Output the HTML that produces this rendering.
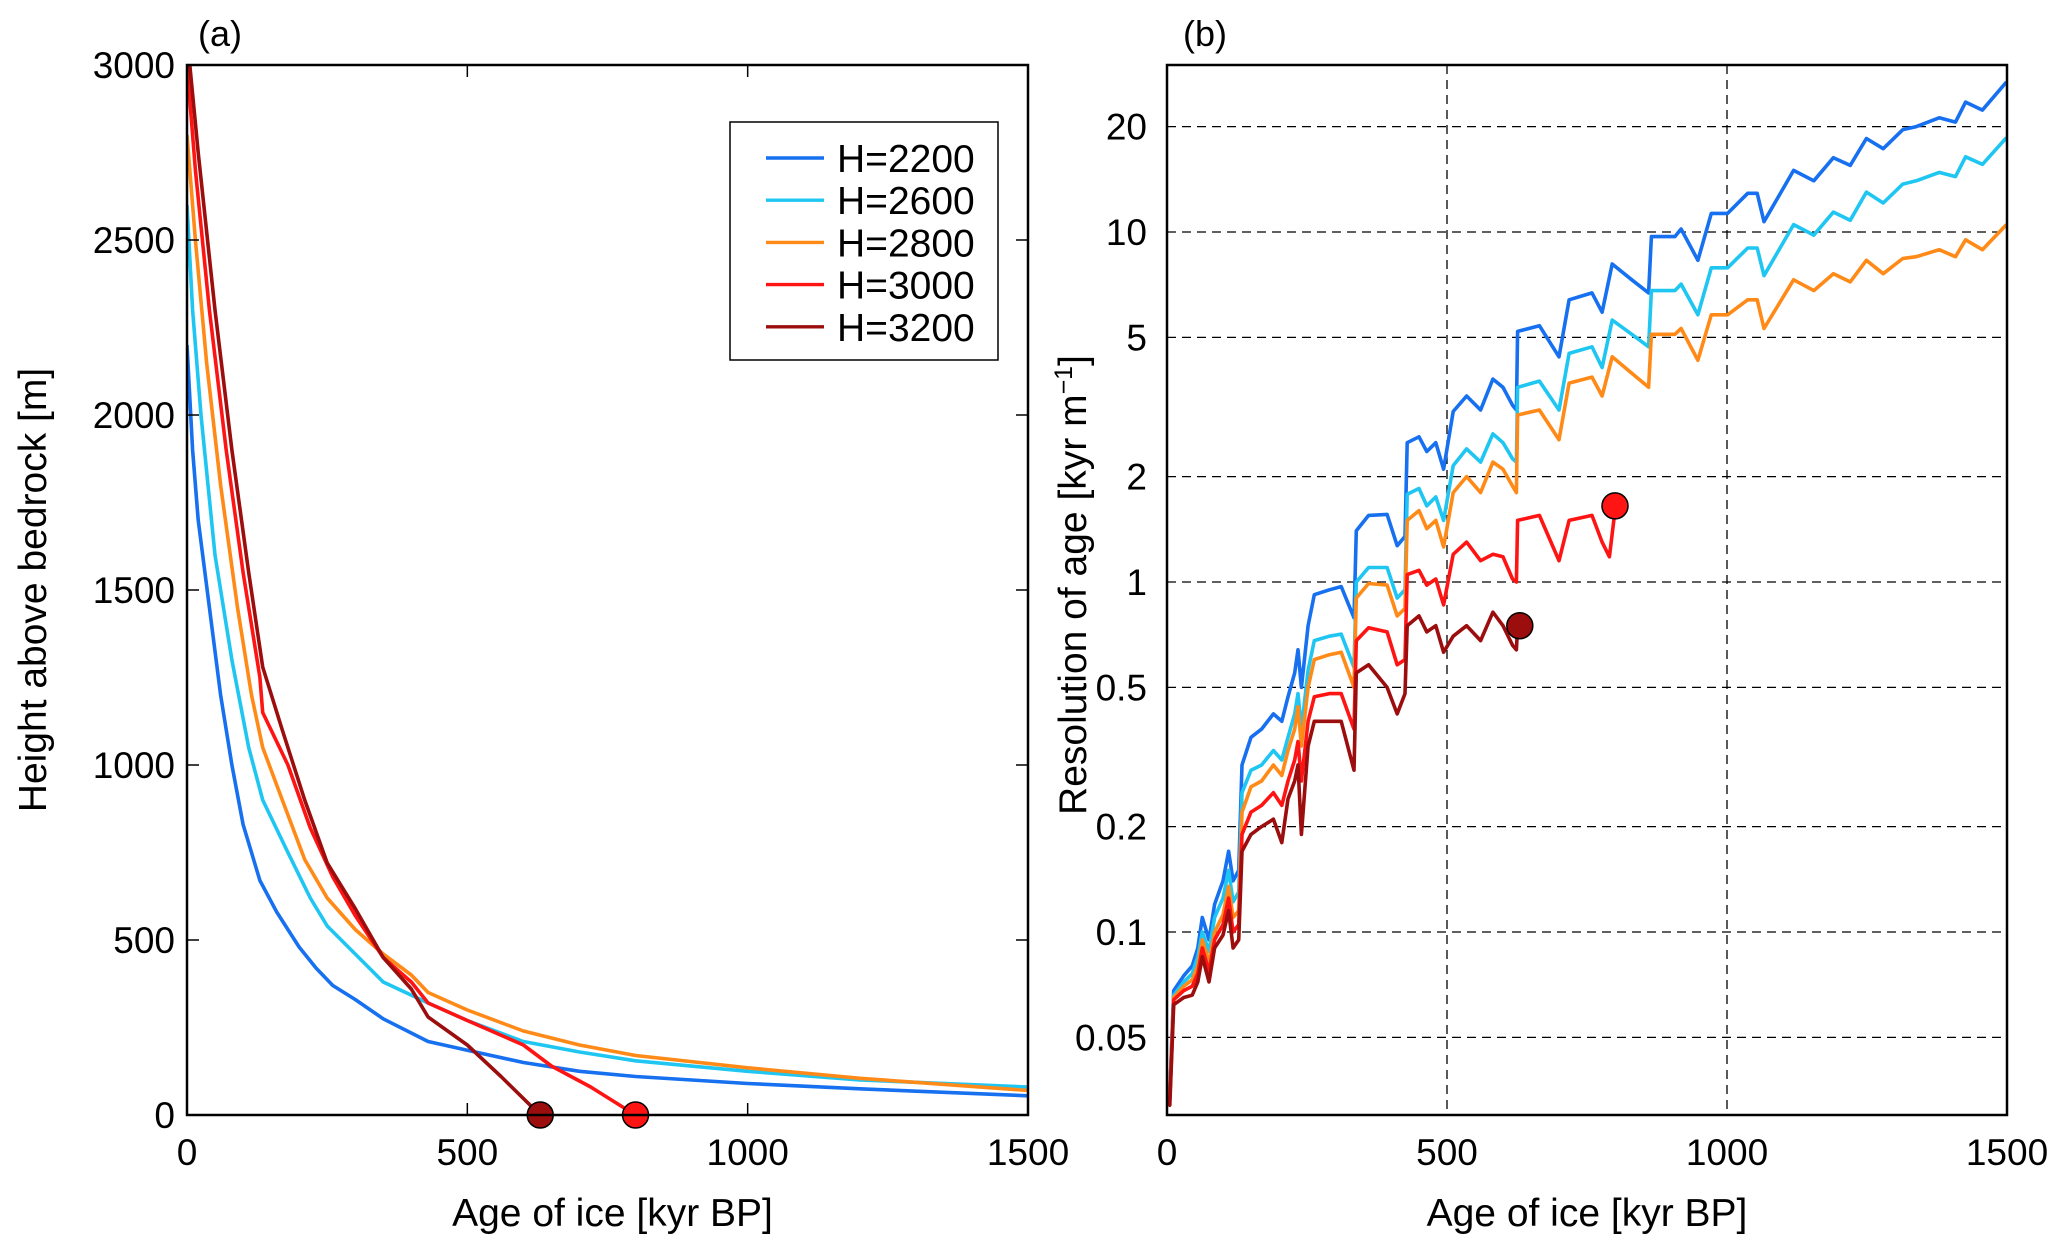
<!DOCTYPE html>
<html><head><meta charset="utf-8"><style>
html,body{margin:0;padding:0;background:#fff;}
svg{display:block;font-family:"Liberation Sans",Arial,sans-serif;}
</style></head><body>
<svg id="fig" width="2067" height="1244" viewBox="0 0 2067 1244" xmlns="http://www.w3.org/2000/svg"></svg>
<script>
// ---------- Panel (a) data: age [kyr], height [m] ----------
const aAge2200 = [0,10,20,40,60,80,100,130,160,200,230,260,300,350,430,500,600,700,800,1000,1200,1500];
const aH2200   = [2200,1900,1700,1450,1200,1000,830,670,580,480,420,370,330,275,210,185,150,125,110,90,75,55];
const aAge2600 = [0,10,25,50,80,110,135,180,220,250,300,350,430,500,600,700,800,1000,1200,1500];
const aH2600   = [2600,2300,2000,1600,1300,1050,900,750,620,540,460,380,320,270,210,180,155,125,100,80];
const aAge2800 = [0,15,35,60,90,115,135,170,210,250,300,350,400,430,500,600,700,800,1000,1200,1500];
const aH2800   = [2800,2500,2150,1800,1450,1200,1050,900,730,620,530,460,400,350,300,240,200,170,135,105,70];
const aAge3000 = [0,15,40,70,100,130,135,180,220,260,300,350,400,430,500,600,650,720,800];
const aH3000   = [3000,2700,2300,1900,1550,1250,1150,1000,820,680,570,450,380,320,270,200,140,80,0];
const aAge3200 = [5,20,50,80,110,135,170,210,250,300,350,400,430,500,560,630];
const aH3200   = [3000,2750,2300,1900,1550,1280,1100,900,720,590,450,360,280,200,110,0];
const aMarkAge = [630,800];
const aMarkH   = [0,0];
const aXTicks = [0,500,1000,1500];
const aYTicks = [0,500,1000,1500,2000,2500,3000];

// ---------- Panel (b) data: age [kyr], resolution [kyr/m] ----------
const bAge = [0,5,12,30,45,55,63,75,85,100,110,118,128,134,150,169,190,205,216,228,234,240,252,263,290,311,334,338,360,393,411,425,429,450,464,480,494,511,535,560,582,600,617,624,626,665,700,718,759,777,795,830,860,865,907,918,948,972,1001,1037,1054,1066,1119,1155,1190,1220,1249,1279,1314,1338,1379,1408,1426,1456,1499];
const bR2200 = [0.036,0.035,0.068,0.075,0.08,0.09,0.11,0.095,0.12,0.14,0.17,0.14,0.15,0.30,0.36,0.38,0.42,0.40,0.47,0.55,0.64,0.50,0.75,0.92,0.95,0.97,0.79,1.40,1.55,1.56,1.27,1.35,2.5,2.6,2.36,2.5,2.1,3.07,3.4,3.1,3.8,3.6,3.2,3.1,5.2,5.4,4.4,6.4,6.7,5.9,8.1,7.3,6.7,9.7,9.7,10.2,8.3,11.3,11.3,12.9,12.9,10.7,15,14,16.3,15.5,18.5,17.3,19.6,20,21.2,20.6,23.5,22.3,26.8];
const bR2600 = [0.036,0.034,0.066,0.072,0.076,0.085,0.1,0.088,0.11,0.125,0.15,0.122,0.13,0.25,0.29,0.3,0.33,0.31,0.36,0.42,0.48,0.38,0.56,0.68,0.7,0.71,0.57,1.0,1.1,1.1,0.9,0.95,1.78,1.85,1.65,1.75,1.5,2.15,2.4,2.2,2.65,2.5,2.25,2.2,3.6,3.75,3.1,4.5,4.7,4.1,5.6,5.1,4.7,6.8,6.8,7.1,5.8,7.9,7.9,9,9,7.5,10.5,9.8,11.4,10.8,13,12.1,13.7,14,14.8,14.4,16.4,15.6,18.6];
const bR2800 = [0.035,0.034,0.065,0.07,0.073,0.08,0.095,0.082,0.1,0.112,0.135,0.11,0.115,0.22,0.26,0.27,0.3,0.28,0.33,0.38,0.44,0.34,0.5,0.6,0.62,0.63,0.5,0.9,0.99,0.98,0.8,0.84,1.5,1.6,1.42,1.5,1.26,1.8,2.0,1.8,2.2,2.1,1.88,1.8,3.0,3.1,2.55,3.7,3.85,3.4,4.4,3.95,3.6,5.1,5.1,5.3,4.3,5.8,5.8,6.4,6.4,5.3,7.3,6.8,7.6,7.2,8.3,7.6,8.4,8.5,8.9,8.5,9.5,8.9,10.5];
const bAge3000 = [0,5,12,30,45,55,63,75,85,100,110,118,128,134,150,169,190,205,216,228,234,240,252,263,290,311,334,338,360,393,411,425,429,450,464,480,494,511,535,560,582,600,617,624,626,665,700,718,759,777,790,800];
const bR3000 = [0.034,0.033,0.064,0.068,0.07,0.076,0.09,0.077,0.095,0.105,0.125,0.1,0.105,0.19,0.22,0.23,0.25,0.23,0.27,0.31,0.35,0.27,0.4,0.47,0.48,0.48,0.38,0.68,0.74,0.72,0.58,0.6,1.05,1.08,0.98,1.02,0.86,1.2,1.3,1.15,1.2,1.18,1.02,1.0,1.5,1.55,1.15,1.5,1.55,1.3,1.18,1.6];
const bAge3200 = [0,5,12,30,45,55,63,75,85,100,110,118,128,134,150,169,190,205,216,228,234,240,252,263,290,311,334,338,360,393,411,425,429,450,464,480,494,511,535,560,582,600,617,624,626];
const bR3200 = [0.033,0.032,0.062,0.065,0.066,0.072,0.085,0.072,0.09,0.098,0.115,0.09,0.095,0.17,0.19,0.2,0.21,0.18,0.24,0.27,0.3,0.19,0.34,0.4,0.4,0.4,0.29,0.55,0.58,0.5,0.42,0.48,0.75,0.8,0.72,0.75,0.63,0.7,0.75,0.68,0.82,0.75,0.66,0.64,0.75];
const bMarkAge = [630,800];
const bMarkR   = [0.75,1.65];
const bXTicks = [0,500,1000,1500];
const bYTicks = [0.05,0.1,0.2,0.5,1,2,5,10,20];
const bYTickLabels = ["0.05","0.1","0.2","0.5","1","2","5","10","20"];
const legendLabels = ["H=2200","H=2600","H=2800","H=3000","H=3200"];

const COLORS = ["#1670ef","#1fc6f2","#ff8a17","#ff1414","#9c0d0d"];
const NS = "http://www.w3.org/2000/svg";
const svg = document.getElementById('fig');
function el(tag, attrs, parent){ const e=document.createElementNS(NS,tag); for(const k in attrs) e.setAttribute(k,attrs[k]); (parent||svg).appendChild(e); return e; }

const TF = 37;   // tick font
const AF = 39;   // axis title font
const A = {l:187, r:1028, t:65, b:1115};
const B = {l:1167, r:2007, t:65, b:1115};
const ax = v => A.l + (v/1500)*(A.r-A.l);
const ay = v => A.b - (v/3000)*(A.b-A.t);
const bx = v => B.l + (v/1500)*(B.r-B.l);
const LMIN=Math.log10(0.03), LMAX=Math.log10(30);
const by = v => B.b - (Math.log10(v)-LMIN)/(LMAX-LMIN)*(B.b-B.t);

// ---------- Panel (a) ----------
const gA = el('g',{});


const clipA = el('clipPath',{id:'clipA'}); el('rect',{x:A.l,y:A.t,width:A.r-A.l,height:A.b-A.t},clipA);
const seriesA = [[aAge2200,aH2200],[aAge2600,aH2600],[aAge2800,aH2800],[aAge3000,aH3000],[aAge3200,aH3200]];
const nameA = ['line-h2200','line-h2600','line-h2800','line-h3000','line-h3200'];
const gAl = el('g',{'clip-path':'url(#clipA)'},gA);
seriesA.forEach((s,i)=>{
  const d = s[0].map((x,j)=>(j?'L':'M')+ax(x).toFixed(1)+' '+ay(s[1][j]).toFixed(1)).join(' ');
  const p = el('path',{d:d,fill:'none',stroke:COLORS[i],'stroke-width':3.6,'stroke-linejoin':'round'},gAl);
  
  
});
aMarkAge.forEach((x,i)=>{
  const c = el('circle',{cx:ax(x),cy:ay(aMarkH[i]),r:13,fill:i==0?COLORS[4]:COLORS[3],stroke:'#000','stroke-width':1.5},gA);
  
  
});
el('rect',{x:A.l,y:A.t,width:A.r-A.l,height:A.b-A.t,fill:'none',stroke:'#000','stroke-width':2.5},gA);
aXTicks.forEach(v=>{
  el('line',{x1:ax(v),x2:ax(v),y1:A.b,y2:A.b-12,stroke:'#000','stroke-width':1.5},gA);
  el('line',{x1:ax(v),x2:ax(v),y1:A.t,y2:A.t+12,stroke:'#000','stroke-width':1.5},gA);
  const t = el('text',{x:ax(v),y:A.b+50,'font-size':TF,'text-anchor':'middle'},gA); t.textContent=v;
  
  
});
aYTicks.forEach(v=>{
  el('line',{x1:A.l,x2:A.l+12,y1:ay(v),y2:ay(v),stroke:'#000','stroke-width':1.5},gA);
  el('line',{x1:A.r,x2:A.r-12,y1:ay(v),y2:ay(v),stroke:'#000','stroke-width':1.5},gA);
  const t = el('text',{x:A.l-12,y:ay(v)+13,'font-size':TF,'text-anchor':'end'},gA); t.textContent=v;
  
  
});
let t;
t = el('text',{x:(A.l+A.r)/2+5,y:1226,'font-size':AF,'text-anchor':'middle'},gA); t.textContent='Age of ice [kyr BP]';
 
t = el('text',{x:0,y:0,'font-size':AF,'text-anchor':'middle',transform:'translate(46,590) rotate(-90)'},gA); t.textContent='Height above bedrock [m]';
 
t = el('text',{x:198,y:46,'font-size':36},gA); t.textContent='(a)';
 

// Legend
const gL = el('g',{},gA);


el('rect',{x:730,y:122,width:268,height:238,fill:'#fff',stroke:'#000','stroke-width':1.5},gL);
legendLabels.forEach((lab,i)=>{
  const y = 158 + i*42.2;
  const g = el('g',{},gL);
  
  
  el('line',{x1:766,x2:824,y1:y,y2:y,stroke:COLORS[i],'stroke-width':3.4},g);
  const tt = el('text',{x:837,y:y+14,'font-size':39},g); tt.textContent=lab;
});

// ---------- Panel (b) ----------
const gB = el('g',{});


bYTicks.forEach(v=>{
  el('line',{x1:B.l,x2:B.r,y1:by(v),y2:by(v),stroke:'#000','stroke-width':1.3,'stroke-dasharray':'9,6'},gB);
});
[500,1000].forEach(v=>{
  el('line',{x1:bx(v),x2:bx(v),y1:B.t,y2:B.b,stroke:'#000','stroke-width':1.3,'stroke-dasharray':'9,6'},gB);
});
const clipB = el('clipPath',{id:'clipB'}); el('rect',{x:B.l,y:B.t,width:B.r-B.l,height:B.b-B.t},clipB);
const gBl = el('g',{'clip-path':'url(#clipB)'},gB);
const seriesB = [[bAge,bR2200],[bAge,bR2600],[bAge,bR2800],[bAge3000,bR3000],[bAge3200,bR3200]];
seriesB.forEach((s,i)=>{
  const d = s[0].map((x,j)=>(j?'L':'M')+bx(x).toFixed(1)+' '+by(s[1][j]).toFixed(1)).join(' ');
  const p = el('path',{d:d,fill:'none',stroke:COLORS[i],'stroke-width':3.6,'stroke-linejoin':'round'},gBl);
  
  
});
bMarkAge.forEach((x,i)=>{
  const c = el('circle',{cx:bx(x),cy:by(bMarkR[i]),r:13,fill:i==0?COLORS[4]:COLORS[3],stroke:'#000','stroke-width':1.5},gB);
  
  
});
el('rect',{x:B.l,y:B.t,width:B.r-B.l,height:B.b-B.t,fill:'none',stroke:'#000','stroke-width':2.5},gB);
bXTicks.forEach(v=>{
  const tt = el('text',{x:bx(v),y:B.b+50,'font-size':TF,'text-anchor':'middle'},gB); tt.textContent=v;
  
  
});
bYTicks.forEach((v,i)=>{
  const tt = el('text',{x:B.l-20,y:by(v)+13,'font-size':TF,'text-anchor':'end'},gB); tt.textContent=bYTickLabels[i];
  
  
});
t = el('text',{x:(B.l+B.r)/2,y:1226,'font-size':AF,'text-anchor':'middle'},gB); t.textContent='Age of ice [kyr BP]';
 
t = el('text',{x:0,y:0,'font-size':AF,'text-anchor':'middle',transform:'translate(1086,585) rotate(-90)'},gB);
t.innerHTML = 'Resolution of age [kyr m<tspan dy="-14" font-size="25">−1</tspan><tspan dy="14">]</tspan>';
 
t = el('text',{x:1183,y:46,'font-size':36},gB); t.textContent='(b)';
 
</script>
</body></html>
